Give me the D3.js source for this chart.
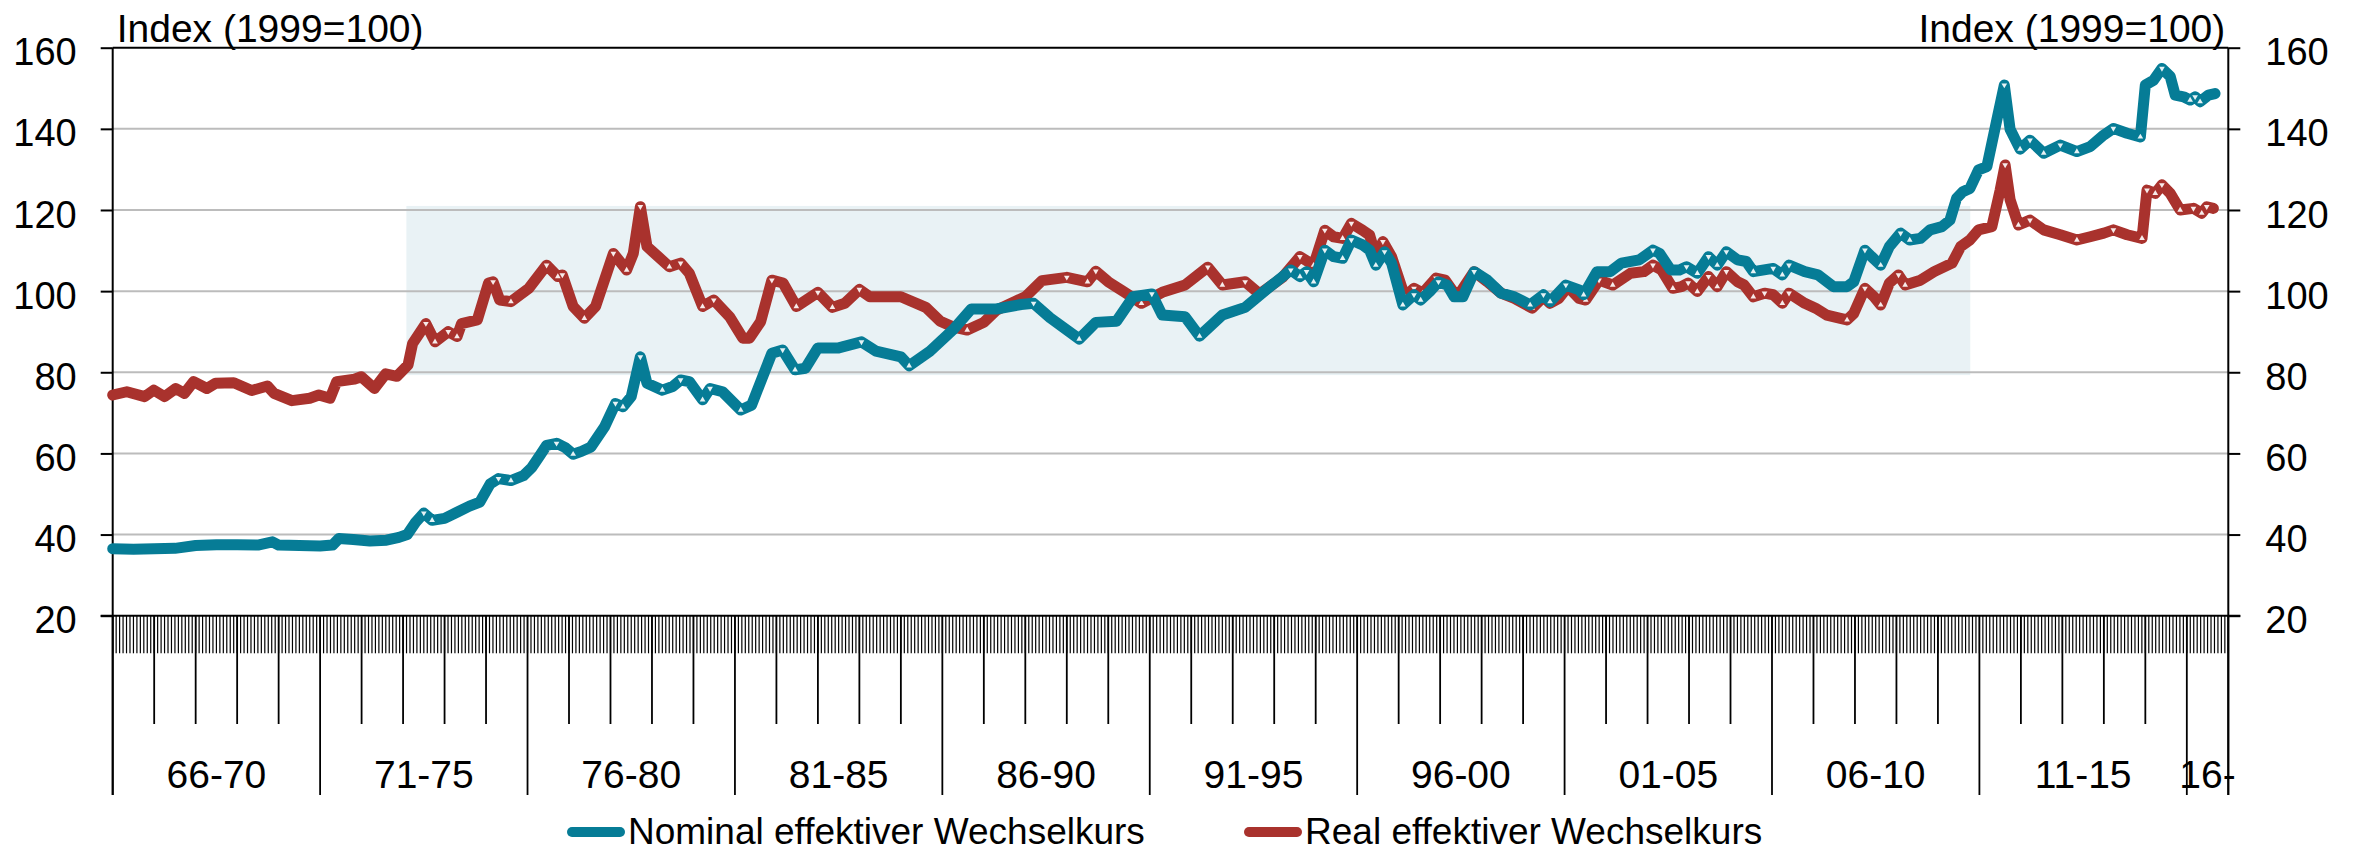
<!DOCTYPE html>
<html><head><meta charset="utf-8">
<script src="https://cdnjs.cloudflare.com/ajax/libs/d3/7.8.5/d3.min.js"></script>
<style>
html,body{margin:0;padding:0;background:#fff;}
svg text{font-family:"Liberation Sans",Arial,sans-serif;fill:#000;}
</style></head>
<body>
<script>
// ---- data (decimal years, index 1999=100) ----
const nominalDates = [1966.00,1966.5,1967.0,1967.5,1968.0,1968.5,1969.0,1969.5,1969.85,1970.0,1970.5,1971.0,1971.3,1971.45,1971.8,1972.2,1972.6,1972.9,1973.1,1973.3,1973.5,1973.7,1974.0,1974.3,1974.6,1974.85,1975.1,1975.3,1975.6,1975.9,1976.1,1976.3,1976.46,1976.7,1976.9,1977.1,1977.3,1977.53,1977.86,1978.12,1978.3,1978.5,1978.72,1978.88,1979.25,1979.5,1979.69,1979.9,1980.22,1980.4,1980.7,1981.14,1981.4,1981.89,1982.15,1982.45,1982.7,1983.0,1983.5,1984.05,1984.4,1985.0,1985.2,1985.7,1986.25,1986.7,1987.3,1987.9,1988.2,1988.6,1989.3,1989.7,1990.2,1990.6,1991.05,1991.3,1991.85,1992.2,1992.75,1993.3,1993.85,1994.4,1994.62,1994.78,1994.95,1995.22,1995.43,1995.65,1995.86,1996.13,1996.3,1996.45,1996.66,1996.83,1997.1,1997.37,1997.53,1997.75,1997.96,1998.17,1998.34,1998.55,1998.82,1999.14,1999.47,1999.79,2000.17,2000.49,2000.65,2001.03,2001.35,2001.46,2001.78,2002.1,2002.37,2002.8,2003.13,2003.29,2003.56,2003.77,2003.94,2004.2,2004.47,2004.68,2004.9,2005.17,2005.38,2005.55,2006.03,2006.25,2006.41,2006.79,2007.11,2007.48,2007.81,2007.97,2008.24,2008.4,2008.62,2008.83,2009.1,2009.32,2009.58,2009.81,2010.1,2010.29,2010.45,2010.6,2010.77,2010.98,2011.18,2011.42,2011.6,2011.74,2011.98,2012.22,2012.55,2012.95,2013.35,2013.67,2014.0,2014.23,2014.56,2014.88,2015.0,2015.2,2015.4,2015.6,2015.72,2015.92,2016.08,2016.2,2016.32,2016.52,2016.68];
const nominalValues = [36.5,36.4,36.5,36.6,37.3,37.5,37.5,37.4,38.2,37.4,37.3,37.2,37.4,39.0,38.8,38.4,38.6,39.3,40.0,43.0,45.3,43.5,44.0,45.5,47.0,48.0,52.5,53.8,53.3,54.5,56.5,59.5,62.0,62.5,61.5,59.8,60.5,61.6,66.6,72.3,71.5,74.0,83.8,77.3,75.6,76.5,78.1,77.7,73.2,76.0,75.2,70.7,71.9,84.7,85.5,80.6,81.0,86.0,86.0,87.5,85.2,83.8,81.6,85.2,90.4,95.6,95.6,96.7,97.0,93.4,88.2,92.3,92.6,98.6,99.3,94.1,93.7,88.9,94.1,96.0,100.7,105.2,103.6,104.8,102.3,110.1,108.5,108.1,112.6,111.4,110.1,106.4,109.7,106.9,96.6,99.1,97.8,99.9,102.3,101.5,98.6,98.6,104.8,102.7,99.5,98.6,96.6,99.1,97.4,101.5,100.3,99.1,104.8,104.8,106.9,107.7,110.1,109.3,105.2,105.2,106.0,104.4,108.5,106.4,109.7,107.7,107.3,104.8,105.6,104.0,106.4,104.8,104.0,101.1,101.1,102.3,110.1,108.5,106.4,111.0,114.3,112.6,113.0,115.1,115.9,117.5,122.9,124.5,125.3,129.9,130.7,142.2,150.8,139.9,135.0,137.2,134.0,136.0,134.4,135.6,138.5,140.1,138.9,138.0,150.8,152.0,154.9,152.9,148.3,147.9,147.1,147.9,146.7,148.3,148.7];

const realDates = [1966.0,1966.34,1966.77,1966.99,1967.25,1967.52,1967.73,1967.95,1968.27,1968.48,1968.92,1969.35,1969.73,1969.89,1970.32,1970.75,1970.97,1971.24,1971.4,1971.83,1971.99,1972.31,1972.58,1972.85,1973.12,1973.23,1973.55,1973.77,1974.09,1974.3,1974.41,1974.79,1975.06,1975.17,1975.33,1975.6,1976.03,1976.46,1976.73,1976.84,1977.1,1977.37,1977.64,1978.07,1978.39,1978.55,1978.72,1978.88,1979.15,1979.42,1979.69,1979.9,1980.22,1980.49,1980.87,1981.19,1981.35,1981.62,1981.89,1982.16,1982.48,1983.0,1983.35,1983.65,1984.0,1984.25,1985.0,1985.6,1985.95,1986.25,1986.6,1987.0,1987.3,1988.0,1988.4,1989.0,1989.5,1989.7,1990.0,1990.4,1990.8,1991.3,1991.85,1992.4,1992.75,1993.3,1993.65,1994.2,1994.62,1994.95,1995.22,1995.43,1995.65,1995.86,1996.13,1996.3,1996.45,1996.62,1996.83,1997.15,1997.37,1997.58,1997.9,1998.12,1998.34,1998.5,1998.82,1999.14,1999.47,1999.79,2000.22,2000.49,2000.65,2000.86,2001.08,2001.35,2001.51,2001.83,2002.16,2002.59,2002.91,2003.13,2003.34,2003.61,2003.82,2003.98,2004.2,2004.47,2004.68,2004.9,2005.17,2005.33,2005.55,2005.82,2006.03,2006.25,2006.41,2006.79,2007.05,2007.32,2007.65,2007.81,2007.97,2008.24,2008.46,2008.62,2008.83,2009.05,2009.21,2009.58,2009.91,2010.34,2010.55,2010.77,2010.98,2011.3,2011.5,2011.62,2011.74,2011.94,2012.22,2012.55,2012.95,2013.35,2013.67,2014.0,2014.23,2014.56,2014.92,2015.04,2015.24,2015.4,2015.6,2015.84,2016.16,2016.36,2016.48,2016.64];
const realValues = [74.4,75.2,74.0,75.6,74.0,76.0,74.8,77.7,76.0,77.3,77.4,75.5,76.6,74.8,73.0,73.6,74.4,73.6,77.7,78.3,78.9,76.0,79.6,79.0,81.8,87.1,92.0,87.5,90.0,88.8,92.0,92.9,102.0,102.3,97.8,97.4,100.7,106.4,103.6,104.0,96.2,93.3,96.2,109.3,105.2,109.3,120.8,111.0,108.5,106.0,106.9,104.4,96.2,97.8,93.7,88.4,88.4,92.5,102.7,102.0,96.2,99.7,96.0,97.0,100.4,98.6,98.6,96.0,92.6,91.2,90.4,92.3,95.3,98.6,102.6,103.4,102.3,104.9,102.3,99.7,97.0,99.7,101.5,105.9,101.5,102.3,99.3,103.4,108.5,106.4,115.0,113.4,113.0,116.7,115.0,113.8,108.5,112.2,108.5,98.6,100.7,99.5,103.2,102.7,99.5,99.9,104.8,102.3,99.5,98.2,95.8,98.6,97.0,98.2,101.1,98.2,97.8,102.7,101.5,104.4,104.8,106.4,105.2,100.7,101.1,102.0,99.9,103.6,101.1,104.8,102.3,101.5,98.6,99.5,99.1,97.0,99.5,97.0,95.8,94.1,93.3,92.9,94.5,100.7,98.6,96.6,102.0,104.0,101.5,102.7,104.8,106.9,111.0,112.6,115.1,115.9,124.9,131.1,122.5,116.3,117.5,115.1,113.9,112.6,113.4,114.3,115.1,113.9,113.0,124.9,124.1,126.2,124.1,120.0,120.4,119.2,120.8,120.4];

const yTicks = [20,40,60,80,100,120,140,160];
const periodStarts = [1966,1971,1976,1981,1986,1991,1996,2001,2006,2011,2016,2017];
const periodLabels = ["66-70","71-75","76-80","81-85","86-90","91-95","96-00","01-05","06-10","11-15","16-"];
const bandYears = [1973.08, 2010.78];
const bandValues = [79.3, 121.0];
const seriesNames = ["Nominal effektiver Wechselkurs","Real effektiver Wechselkurs"];
const seriesColors = ["#067c96","#a9322d"];
const axisTitle = "Index (1999=100)";

// ---- layout ----
const W = 2354, H = 853;
const L = 112.7, R = 2228.3, T = 47.7, B = 615.7;
const svg = d3.select("body").append("svg").attr("width", W).attr("height", H);

const x = d3.scaleLinear().domain([1966, 2017]).range([L, R]);
const y = d3.scaleLinear().domain([20, 160]).range([B, T]);

// band
svg.append("rect")
  .attr("x", x(bandYears[0])).attr("width", x(bandYears[1]) - x(bandYears[0]))
  .attr("y", y(bandValues[1])).attr("height", y(bandValues[0]) - y(bandValues[1]))
  .attr("fill", "#e9f2f5");

// gridlines
svg.append("g").selectAll("line").data(yTicks.filter(v => v > 20 && v < 160)).join("line")
  .attr("x1", L).attr("x2", R).attr("y1", d => y(d)).attr("y2", d => y(d))
  .attr("stroke", "#bcbcbc").attr("stroke-width", 2);

// top line
svg.append("line").attr("x1", L).attr("x2", R).attr("y1", y(160)).attr("y2", y(160)).attr("stroke", "#000").attr("stroke-width", 2);

// y axes
const fs = 38;
const gl = svg.append("g").attr("transform", `translate(${L},0)`)
  .call(d3.axisLeft(y).tickValues(yTicks).tickSize(12).tickPadding(24));
const gr = svg.append("g").attr("transform", `translate(${R},0)`)
  .call(d3.axisRight(y).tickValues(yTicks).tickSize(12).tickPadding(25));
[gl, gr].forEach(g => {
  g.select(".domain").remove();
  g.selectAll(".tick line").attr("stroke", "#000").attr("stroke-width", 2);
  g.selectAll(".tick text").attr("font-size", fs).attr("dy", "0.45em")
    .style("font-family", '"Liberation Sans",Arial,sans-serif').attr("fill", "#000");
});

// x axis ticks
const months = d3.range(0, (2017 - 1966) * 12 + 1).map(m => 1966 + m / 12);
svg.append("g").selectAll("line").data(months).join("line")
  .attr("x1", d => x(d)).attr("x2", d => x(d)).attr("y1", B).attr("y2", 653.3)
  .attr("stroke", "#000").attr("stroke-width", 1.2);
const years = d3.range(1966, 2018).filter(v => !periodStarts.includes(v));
svg.append("g").selectAll("line").data(years).join("line")
  .attr("x1", d => x(d)).attr("x2", d => x(d)).attr("y1", B).attr("y2", 724)
  .attr("stroke", "#000").attr("stroke-width", 1.8);
svg.append("g").selectAll("line").data(periodStarts).join("line")
  .attr("x1", d => x(d)).attr("x2", d => x(d)).attr("y1", B).attr("y2", 795)
  .attr("stroke", "#000").attr("stroke-width", 1.8);
svg.append("g").selectAll("text").data(periodLabels).join("text")
  .attr("x", (d, i) => (x(periodStarts[i]) + x(periodStarts[i + 1])) / 2)
  .attr("y", 787.5).attr("text-anchor", "middle").attr("font-size", 39).text(d => d);

// axis lines
svg.append("line").attr("x1", L).attr("x2", L).attr("y1", T).attr("y2", 795).attr("stroke", "#000").attr("stroke-width", 2);
svg.append("line").attr("x1", R).attr("x2", R).attr("y1", T).attr("y2", 795).attr("stroke", "#000").attr("stroke-width", 2);
svg.append("line").attr("x1", L - 12).attr("x2", R + 12).attr("y1", B).attr("y2", B).attr("stroke", "#000").attr("stroke-width", 2);

// titles
svg.append("text").attr("x", L + 4).attr("y", 41.5).attr("font-size", 39).text(axisTitle);
svg.append("text").attr("x", R - 3).attr("y", 41.5).attr("font-size", 39).attr("text-anchor", "end").text(axisTitle);

// series
const line = d3.line().x(d => x(d[0])).y(d => y(d[1])).curve(d3.curveLinear);
const realPts = realDates.map((d, i) => [d, realValues[i]]);
const nomPts = nominalDates.map((d, i) => [d, nominalValues[i]]);
const tri = d3.symbol().type(d3.symbolTriangle).size(14);
function drawSeries(pts, color) {
  svg.append("path").attr("d", line(pts)).attr("fill", "none").attr("stroke", color)
    .attr("stroke-width", 11).attr("stroke-linejoin", "round").attr("stroke-linecap", "round");
  // small white marker triangles at turning points (as in the original's marker artefacts)
  const ext = pts.map((p, i) => {
    if (i === 0 || i === pts.length - 1) return null;
    const a = pts[i - 1][1], c = pts[i + 1][1];
    if (p[1] > a && p[1] > c) return {p, up: false};
    if (p[1] < a && p[1] < c) return {p, up: true};
    return null;
  }).filter(d => d && d.p[0] > 1973);
  svg.append("g").selectAll("path").data(ext).join("path")
    .attr("d", tri)
    .attr("transform", d => `translate(${x(d.p[0])},${y(d.p[1])}) rotate(${d.up ? 0 : 180})`)
    .attr("fill", "#fff").attr("opacity", 0.9);
}
drawSeries(realPts, seriesColors[1]);
drawSeries(nomPts, seriesColors[0]);

// legend
const legX = [572, 1249];
seriesNames.forEach((n, i) => {
  svg.append("line").attr("x1", legX[i]).attr("x2", legX[i] + 48).attr("y1", 832).attr("y2", 832)
    .attr("stroke", seriesColors[i]).attr("stroke-width", 10).attr("stroke-linecap", "round");
  svg.append("text").attr("x", legX[i] + 56).attr("y", 844).attr("font-size", 37).text(n);
});
</script>
</body></html>
